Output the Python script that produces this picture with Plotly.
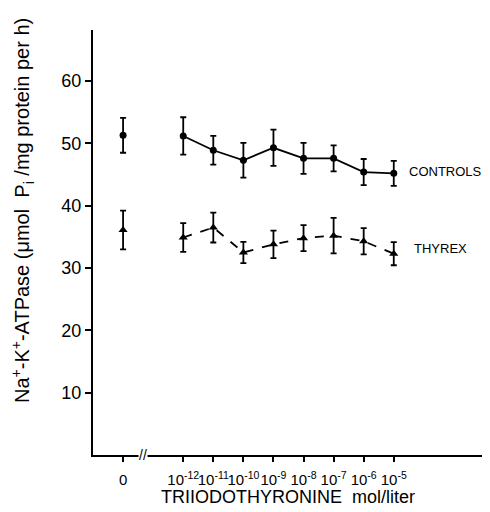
import plotly.graph_objects as go

# Data
x_pos = [-14, -12, -11, -10, -9, -8, -7, -6, -5]
tick_labels = ["0", "10<sup>-12</sup>", "10<sup>-11</sup>", "10<sup>-10</sup>", "10<sup>-9</sup>",
               "10<sup>-8</sup>", "10<sup>-7</sup>", "10<sup>-6</sup>", "10<sup>-5</sup>"]
controls = [51.3, 51.2, 48.9, 47.3, 49.3, 47.6, 47.6, 45.4, 45.2]
controls_err = [2.8, 3.0, 2.3, 2.8, 2.9, 2.5, 2.1, 2.1, 2.0]
thyrex = [36.1, 34.9, 36.5, 32.5, 33.8, 34.8, 35.2, 34.3, 32.3]
thyrex_err = [3.1, 2.3, 2.4, 1.7, 2.2, 2.1, 2.85, 2.1, 1.85]

fig = go.Figure()

def add_series(y, err, symbol, dash, size):
    eb = dict(type="data", array=err[:1], visible=True, color="black", thickness=1.8, width=3)
    fig.add_trace(go.Scatter(x=x_pos[:1], y=y[:1], mode="markers",
                             marker=dict(symbol=symbol, size=size, color="black"),
                             error_y=eb, showlegend=False))
    eb2 = dict(type="data", array=err[1:], visible=True, color="black", thickness=1.8, width=3)
    fig.add_trace(go.Scatter(x=x_pos[1:], y=y[1:], mode="lines+markers",
                             line=dict(color="black", width=1.8, dash=dash),
                             marker=dict(symbol=symbol, size=size, color="black"),
                             error_y=eb2, showlegend=False))

add_series(controls, controls_err, "circle", "solid", 7)
add_series(thyrex, thyrex_err, "triangle-up", "dash", 8)

font = "Liberation Sans, Arial, sans-serif"

fig.add_annotation(x=-4.55, y=controls[-1] + 0.3, text="CONTROLS", showarrow=False,
                   xanchor="left", yanchor="middle", font=dict(size=13, color="black", family=font))
fig.add_annotation(x=-4.4, y=thyrex[-1] + 0.8, text="THYREX", showarrow=False,
                   xanchor="left", yanchor="middle", font=dict(size=13, color="black", family=font))
fig.add_annotation(x=-13.35, y=0, text="//", showarrow=False, xanchor="center", yanchor="middle",
                   font=dict(size=14, color="black", family=font), bgcolor="white", borderpad=0)

# axis titles
fig.add_annotation(xref="paper", yref="paper", x=0, y=0.574, xshift=-71, textangle=-90,
                   text="Na<sup>+</sup>-K<sup>+</sup>-ATPase (μmol  P<sub>i</sub> /mg protein per h)",
                   showarrow=False, xanchor="center", yanchor="middle",
                   font=dict(size=20, color="black", family=font))
fig.add_annotation(xref="paper", yref="paper", x=0.491, y=0, yshift=-42,
                   text="TRIIODOTHYRONINE  mol/liter",
                   showarrow=False, xanchor="center", yanchor="middle",
                   font=dict(size=18, color="black", family=font))

fig.update_layout(
    width=482, height=504,
    margin=dict(l=85, r=0, t=22, b=57),
    paper_bgcolor="white", plot_bgcolor="white",
    font=dict(family=font, color="black"),
    xaxis=dict(range=[-15, -1.8], tickmode="array", tickvals=x_pos, ticktext=tick_labels,
               showgrid=False, zeroline=False, showline=True, linecolor="black", linewidth=2,
               ticks="outside", ticklen=5, tickwidth=1.5, tickcolor="black",
               tickfont=dict(size=15), tickangle=0, automargin=False, ticklabelstandoff=5),
    yaxis=dict(range=[0, 68.2], tickvals=[10, 20, 30, 40, 50, 60],
               showgrid=False, zeroline=False, showline=True, linecolor="black", linewidth=2,
               ticks="outside", ticklen=6, tickwidth=1.5, tickcolor="black",
               tickfont=dict(size=18), automargin=False),
)

fig.write_html("out.html")
